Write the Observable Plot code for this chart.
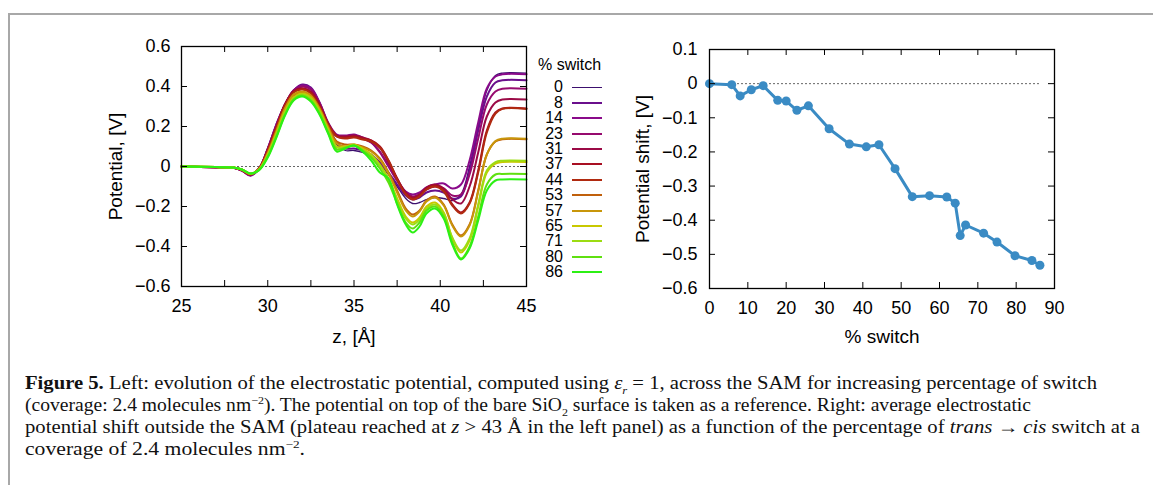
<!DOCTYPE html>
<html>
<head>
<meta charset="utf-8">
<script src="https://cdn.jsdelivr.net/npm/d3@7"></script>
<script src="https://cdn.jsdelivr.net/npm/@observablehq/plot@0.6"></script>
<style>
  html, body { margin: 0; padding: 0; background: #fff; }
  #page { position: relative; width: 1153px; height: 485px; overflow: hidden; background: #fff; font-family: "Liberation Sans", Arial, Helvetica, sans-serif; }
  #border { position: absolute; left: 8px; top: 13px; width: 1200px; height: 500px; border-top: 2px solid #a8a8a8; border-left: 2px solid #a8a8a8; }
  .panel { position: absolute; top: 0; }
  .panel svg, .panel svg text { font-family: "Liberation Sans", Arial, Helvetica, sans-serif !important; }
  .legend-title { position: absolute; left: 538px; top: 56px; font-size: 16px; color: #000; white-space: nowrap; font-family: "Liberation Sans", Arial, sans-serif; }
  .leg-label { position: absolute; width: 40px; text-align: right; font-size: 16px; line-height: 16px; color: #000; font-family: "Liberation Sans", Arial, sans-serif; }
  .leg-line { position: absolute; width: 30px; }
  .cap { position: absolute; left: 25px; font-family: "Liberation Serif", "DejaVu Serif", serif; font-size: 18px; line-height: 22px; white-space: nowrap; color: #111; transform-origin: 0 50%; }
  .cap sub, .cap sup { font-size: 11px; line-height: 0; }
</style>
</head>
<body>
<div id="page">
  <div id="border"></div>
  <div id="left" class="panel" style="left:0px"></div>
  <div id="right" class="panel" style="left:580px"></div>
  <div id="legend"></div>
  <div class="cap" id="c1" style="top:372px"><b>Figure 5.</b> Left: evolution of the electrostatic potential, computed using <i>ε<sub>r</sub></i> = 1, across the SAM for increasing percentage of switch</div>
  <div class="cap" id="c2" style="top:394px">(coverage: 2.4 molecules nm<sup>−2</sup>). The potential on top of the bare SiO<sub>2</sub> surface is taken as a reference. Right: average electrostatic</div>
  <div class="cap" id="c3" style="top:416px">potential shift outside the SAM (plateau reached at <i>z</i> &gt; 43 Å in the left panel) as a function of the percentage of <i>trans</i> → <i>cis</i> switch at a</div>
  <div class="cap" id="c4" style="top:438px">coverage of 2.4 molecules nm<sup>−2</sup>.</div>
</div>
<script>
// ---------- Left panel data ----------
const zGrid = [25, 27, 28, 28.5, 29, 29.5, 30, 30.5, 31, 31.5, 32, 32.5, 33, 33.5, 34, 34.5, 35, 35.5, 36, 36.5, 37, 37.5, 38, 38.4, 38.8, 39.2, 39.7, 40.2, 40.7, 41.2, 41.7, 42.2, 42.7, 43.2, 43.6, 45];

const pot0  = [0, -0.004, -0.006, -0.02, -0.045, -0.01, 0.09, 0.21, 0.31, 0.375, 0.4, 0.385, 0.31, 0.2, 0.11, 0.08, 0.08, 0.07, 0.05, 0.01, -0.04, -0.1, -0.16, -0.185, -0.18, -0.165, -0.155, -0.16, -0.17, -0.14, 0.0, 0.2, 0.38, 0.455, 0.467, 0.467];
const pot8  = [0, -0.004, -0.006, -0.02, -0.045, -0.01, 0.09, 0.21, 0.31, 0.38, 0.41, 0.395, 0.32, 0.21, 0.12, 0.09, 0.09, 0.08, 0.06, 0.02, -0.03, -0.09, -0.145, -0.165, -0.155, -0.13, -0.12, -0.13, -0.16, -0.15, -0.02, 0.18, 0.35, 0.42, 0.431, 0.431];
const pot14 = [0, -0.004, -0.006, -0.02, -0.045, -0.01, 0.09, 0.21, 0.31, 0.38, 0.405, 0.39, 0.32, 0.22, 0.16, 0.155, 0.16, 0.145, 0.12, 0.07, 0.0, -0.07, -0.125, -0.14, -0.13, -0.105, -0.09, -0.085, -0.11, -0.09, 0.03, 0.22, 0.39, 0.45, 0.461, 0.461];
const pot23 = [0, -0.004, -0.006, -0.02, -0.04, -0.01, 0.085, 0.2, 0.31, 0.38, 0.4, 0.385, 0.315, 0.215, 0.155, 0.15, 0.155, 0.14, 0.12, 0.075, 0.005, -0.07, -0.13, -0.15, -0.14, -0.115, -0.1, -0.11, -0.145, -0.14, -0.04, 0.14, 0.31, 0.375, 0.389, 0.389];
const pot31 = [0, -0.004, -0.006, -0.018, -0.04, -0.01, 0.085, 0.2, 0.31, 0.375, 0.39, 0.375, 0.31, 0.215, 0.155, 0.15, 0.155, 0.145, 0.13, 0.095, 0.02, -0.06, -0.13, -0.155, -0.14, -0.105, -0.09, -0.11, -0.165, -0.185, -0.1, 0.07, 0.25, 0.32, 0.335, 0.335];
const pot37 = [0, -0.004, -0.006, -0.018, -0.04, -0.01, 0.08, 0.195, 0.31, 0.375, 0.39, 0.37, 0.305, 0.21, 0.15, 0.145, 0.15, 0.14, 0.13, 0.1, 0.03, -0.06, -0.135, -0.16, -0.145, -0.11, -0.095, -0.12, -0.19, -0.23, -0.18, -0.02, 0.18, 0.27, 0.29, 0.29];
const pot44 = [0, -0.004, -0.006, -0.018, -0.04, -0.01, 0.08, 0.195, 0.305, 0.37, 0.385, 0.365, 0.3, 0.21, 0.15, 0.14, 0.145, 0.135, 0.125, 0.095, 0.03, -0.065, -0.14, -0.165, -0.15, -0.115, -0.1, -0.125, -0.195, -0.235, -0.185, -0.03, 0.17, 0.265, 0.288, 0.288];
const pot53 = [0, -0.003, -0.005, -0.015, -0.037, -0.012, 0.07, 0.18, 0.29, 0.355, 0.37, 0.35, 0.29, 0.2, 0.125, 0.11, 0.11, 0.1, 0.08, 0.04, -0.03, -0.12, -0.21, -0.24, -0.22, -0.17, -0.15, -0.19, -0.29, -0.345, -0.29, -0.12, 0.06, 0.125, 0.136, 0.136];
const pot57 = [0, -0.003, -0.005, -0.015, -0.037, -0.012, 0.065, 0.175, 0.29, 0.36, 0.375, 0.355, 0.29, 0.195, 0.115, 0.1, 0.105, 0.095, 0.075, 0.035, -0.035, -0.13, -0.22, -0.25, -0.225, -0.175, -0.155, -0.195, -0.295, -0.35, -0.295, -0.125, 0.06, 0.127, 0.139, 0.139];
const pot65 = [0, -0.003, -0.005, -0.015, -0.035, -0.015, 0.06, 0.165, 0.275, 0.345, 0.365, 0.345, 0.28, 0.185, 0.1, 0.1, 0.11, 0.09, 0.06, 0.01, -0.06, -0.16, -0.25, -0.28, -0.255, -0.2, -0.18, -0.23, -0.36, -0.43, -0.37, -0.2, -0.03, 0.015, 0.022, 0.022];
const pot71 = [0, -0.003, -0.005, -0.015, -0.035, -0.015, 0.055, 0.16, 0.27, 0.34, 0.36, 0.34, 0.275, 0.18, 0.095, 0.095, 0.105, 0.085, 0.055, 0.005, -0.065, -0.17, -0.26, -0.29, -0.265, -0.21, -0.19, -0.235, -0.355, -0.42, -0.36, -0.19, -0.02, 0.022, 0.029, 0.029];
const pot80 = [0, -0.003, -0.005, -0.015, -0.035, -0.018, 0.05, 0.15, 0.26, 0.335, 0.355, 0.33, 0.265, 0.17, 0.085, 0.095, 0.105, 0.08, 0.045, -0.01, -0.08, -0.185, -0.28, -0.31, -0.28, -0.22, -0.2, -0.25, -0.38, -0.46, -0.4, -0.25, -0.09, -0.04, -0.037, -0.037];
const pot86 = [0, -0.003, -0.005, -0.015, -0.035, -0.018, 0.045, 0.145, 0.255, 0.33, 0.35, 0.325, 0.26, 0.165, 0.075, 0.09, 0.105, 0.075, 0.03, -0.03, -0.06, -0.19, -0.29, -0.33, -0.3, -0.235, -0.21, -0.26, -0.39, -0.465, -0.41, -0.27, -0.12, -0.07, -0.065, -0.065];

const seriesPct   = ["0", "8", "14", "23", "31", "37", "44", "53", "57", "65", "71", "80", "86"];
const seriesColor = ["#3c0f6e", "#6a0f8c", "#8a0a8a", "#960a6e", "#9b0a46", "#a80f22", "#b02a10", "#c0600c", "#c8960a", "#c8c800", "#9cdc12", "#5fe010", "#2cf014"];
const potentials  = [pot0, pot8, pot14, pot23, pot31, pot37, pot44, pot53, pot57, pot65, pot71, pot80, pot86];

const leftXTicks = [25, 30, 35, 40, 45];
const leftXMinor = [25, 27.5, 30, 32.5, 35, 37.5, 40, 42.5, 45];
const leftYTicks = [-0.6, -0.4, -0.2, 0, 0.2, 0.4, 0.6];

// ---------- Right panel data ----------
const shiftPct = [0, 5.8, 8.0, 10.9, 14.0, 17.8, 20.0, 22.8, 25.8, 31.2, 36.5, 40.9, 44.2, 48.4, 52.9, 57.4, 61.9, 64.1, 65.4, 66.8, 71.5, 75.0, 79.7, 84.1, 86.2];
const shiftVal = [0, -0.003, -0.036, -0.018, -0.006, -0.049, -0.051, -0.078, -0.065, -0.132, -0.177, -0.185, -0.179, -0.249, -0.331, -0.328, -0.332, -0.350, -0.445, -0.414, -0.438, -0.464, -0.504, -0.518, -0.532];
const rightXTicks = [0, 10, 20, 30, 40, 50, 60, 70, 80, 90];
const rightYTicks = [-0.6, -0.5, -0.4, -0.3, -0.2, -0.1, 0, 0.1];

// ---------- helpers ----------
const fmt = d => (Math.abs(d) < 1e-9 ? "0" : (d < 0 ? "\u2212" + Math.abs(d).toFixed(1) : d.toFixed(1)));
const TICK = 6;
const FONT = "'Liberation Sans', Arial, Helvetica, sans-serif";
const TICKFONT = 18;

// ---------- Left plot ----------
const rows = seriesPct.flatMap((p, i) => zGrid.map((z, j) => ({pct: p, z, v: potentials[i][j]})));
const L = {w: 540, h: 360, ml: 181, mr: 14, mt: 46, mb: 74};
const LiW = L.w - L.ml - L.mr, LiH = L.h - L.mt - L.mb;

const left = Plot.plot({
  width: L.w, height: L.h,
  marginLeft: L.ml, marginRight: L.mr, marginTop: L.mt, marginBottom: L.mb,
  style: {fontFamily: FONT, fontSize: TICKFONT + "px", color: "#000", background: "transparent", overflow: "visible"},
  x: {domain: [25, 45]},
  y: {domain: [-0.6, 0.6]},
  color: {type: "ordinal", domain: seriesPct, range: seriesColor},
  marks: [
    Plot.ruleY([0], {stroke: "#666", strokeWidth: 1, strokeDasharray: "2,2"}),
    Plot.line(rows.filter(d => d.pct === "0"), {x: "z", y: "v", z: "pct", stroke: "pct", strokeWidth: 1.3, curve: "catmull-rom"}),
    Plot.line(rows.filter(d => d.pct !== "0"), {x: "z", y: "v", z: "pct", stroke: "pct", strokeWidth: 2, curve: "catmull-rom"}),
    Plot.tickX(leftXMinor, {x: d => d, insetTop: LiH - TICK, stroke: "#000", strokeWidth: 1}),
    Plot.tickX(leftXMinor, {x: d => d, insetBottom: LiH - TICK, stroke: "#000", strokeWidth: 1}),
    Plot.tickY(leftYTicks, {y: d => d, insetRight: LiW - TICK, stroke: "#000", strokeWidth: 1}),
    Plot.tickY(leftYTicks, {y: d => d, insetLeft: LiW - TICK, stroke: "#000", strokeWidth: 1}),
    Plot.frame({stroke: "#000", strokeWidth: 1.3}),
    Plot.axisX({ticks: leftXTicks, tickSize: 0, tickPadding: 13, label: null, fontSize: TICKFONT}),
    Plot.axisY({ticks: leftYTicks, tickSize: 0, tickPadding: 11, tickFormat: fmt, label: null, fontSize: TICKFONT}),
    Plot.text(["z, [Å]"], {frameAnchor: "bottom", dy: 50, lineAnchor: "middle", fontSize: 19, fill: "#000"}),
    Plot.text(["Potential, [V]"], {frameAnchor: "left", dx: -66, rotate: -90, textAnchor: "middle", lineAnchor: "middle", fontSize: 19, fill: "#000"})
  ]
});
document.getElementById("left").appendChild(left);

// ---------- Legend ----------
const leg = document.getElementById("legend");
const title = document.createElement("div");
title.className = "legend-title";
title.textContent = "% switch";
leg.appendChild(title);
seriesPct.forEach((p, i) => {
  const y = 87.3 + i * 15.4;
  const lab = document.createElement("div");
  lab.className = "leg-label";
  lab.style.left = (563 - 40) + "px";
  lab.style.top = (y - 8) + "px";
  lab.textContent = p;
  leg.appendChild(lab);
  const ln = document.createElement("div");
  ln.className = "leg-line";
  const th = p === "0" ? 1.2 : 2;
  ln.style.left = "572px";
  ln.style.top = (y - th / 2) + "px";
  ln.style.height = th + "px";
  ln.style.background = seriesColor[i];
  leg.appendChild(ln);
});

// ---------- Right plot ----------
const shift = shiftPct.map((p, i) => ({p, v: shiftVal[i]}));
const R = {w: 573, h: 370, ml: 129, mr: 99, mt: 49, mb: 82};
const RiW = R.w - R.ml - R.mr, RiH = R.h - R.mt - R.mb;
const blue = "#3a8bc4";

const right = Plot.plot({
  width: R.w, height: R.h,
  marginLeft: R.ml, marginRight: R.mr, marginTop: R.mt, marginBottom: R.mb,
  style: {fontFamily: FONT, fontSize: TICKFONT + "px", color: "#000", background: "transparent", overflow: "visible"},
  x: {domain: [0, 90]},
  y: {domain: [-0.6, 0.1]},
  marks: [
    Plot.ruleY([0], {x1: 0, x2: d3.max(shiftPct), stroke: "#666", strokeWidth: 1, strokeDasharray: "2,2"}),
    Plot.line(shift, {x: "p", y: "v", stroke: blue, strokeWidth: 3}),
    Plot.dot(shift, {x: "p", y: "v", r: 4.5, fill: blue, stroke: "none"}),
    Plot.tickX(rightXTicks, {x: d => d, insetTop: RiH - TICK, stroke: "#000", strokeWidth: 1}),
    Plot.tickX(rightXTicks, {x: d => d, insetBottom: RiH - TICK, stroke: "#000", strokeWidth: 1}),
    Plot.tickY(rightYTicks, {y: d => d, insetRight: RiW - TICK, stroke: "#000", strokeWidth: 1}),
    Plot.tickY(rightYTicks, {y: d => d, insetLeft: RiW - TICK, stroke: "#000", strokeWidth: 1}),
    Plot.frame({stroke: "#000", strokeWidth: 1.3}),
    Plot.axisX({ticks: rightXTicks, tickSize: 0, tickPadding: 13, label: null, fontSize: TICKFONT}),
    Plot.axisY({ticks: rightYTicks, tickSize: 0, tickPadding: 12, tickFormat: fmt, label: null, fontSize: TICKFONT}),
    Plot.text(["% switch"], {frameAnchor: "bottom", dy: 48, lineAnchor: "middle", fontSize: 19, fill: "#000"}),
    Plot.text(["Potential shift, [V]"], {frameAnchor: "left", dx: -67, rotate: -90, textAnchor: "middle", lineAnchor: "middle", fontSize: 19, fill: "#000"})
  ]
});
document.getElementById("right").appendChild(right);

// ---------- Caption width fitting ----------
const capTargets = {c1: 1072, c2: 1006, c3: 1115, c4: 280};
function fitCaption() {
  for (const id in capTargets) {
    const el = document.getElementById(id);
    el.style.transform = "none";
    const w = el.getBoundingClientRect().width;
    if (w > 0) el.style.transform = `scaleX(${capTargets[id] / w})`;
  }
}
fitCaption();
requestAnimationFrame(fitCaption);
</script>
</body>
</html>
